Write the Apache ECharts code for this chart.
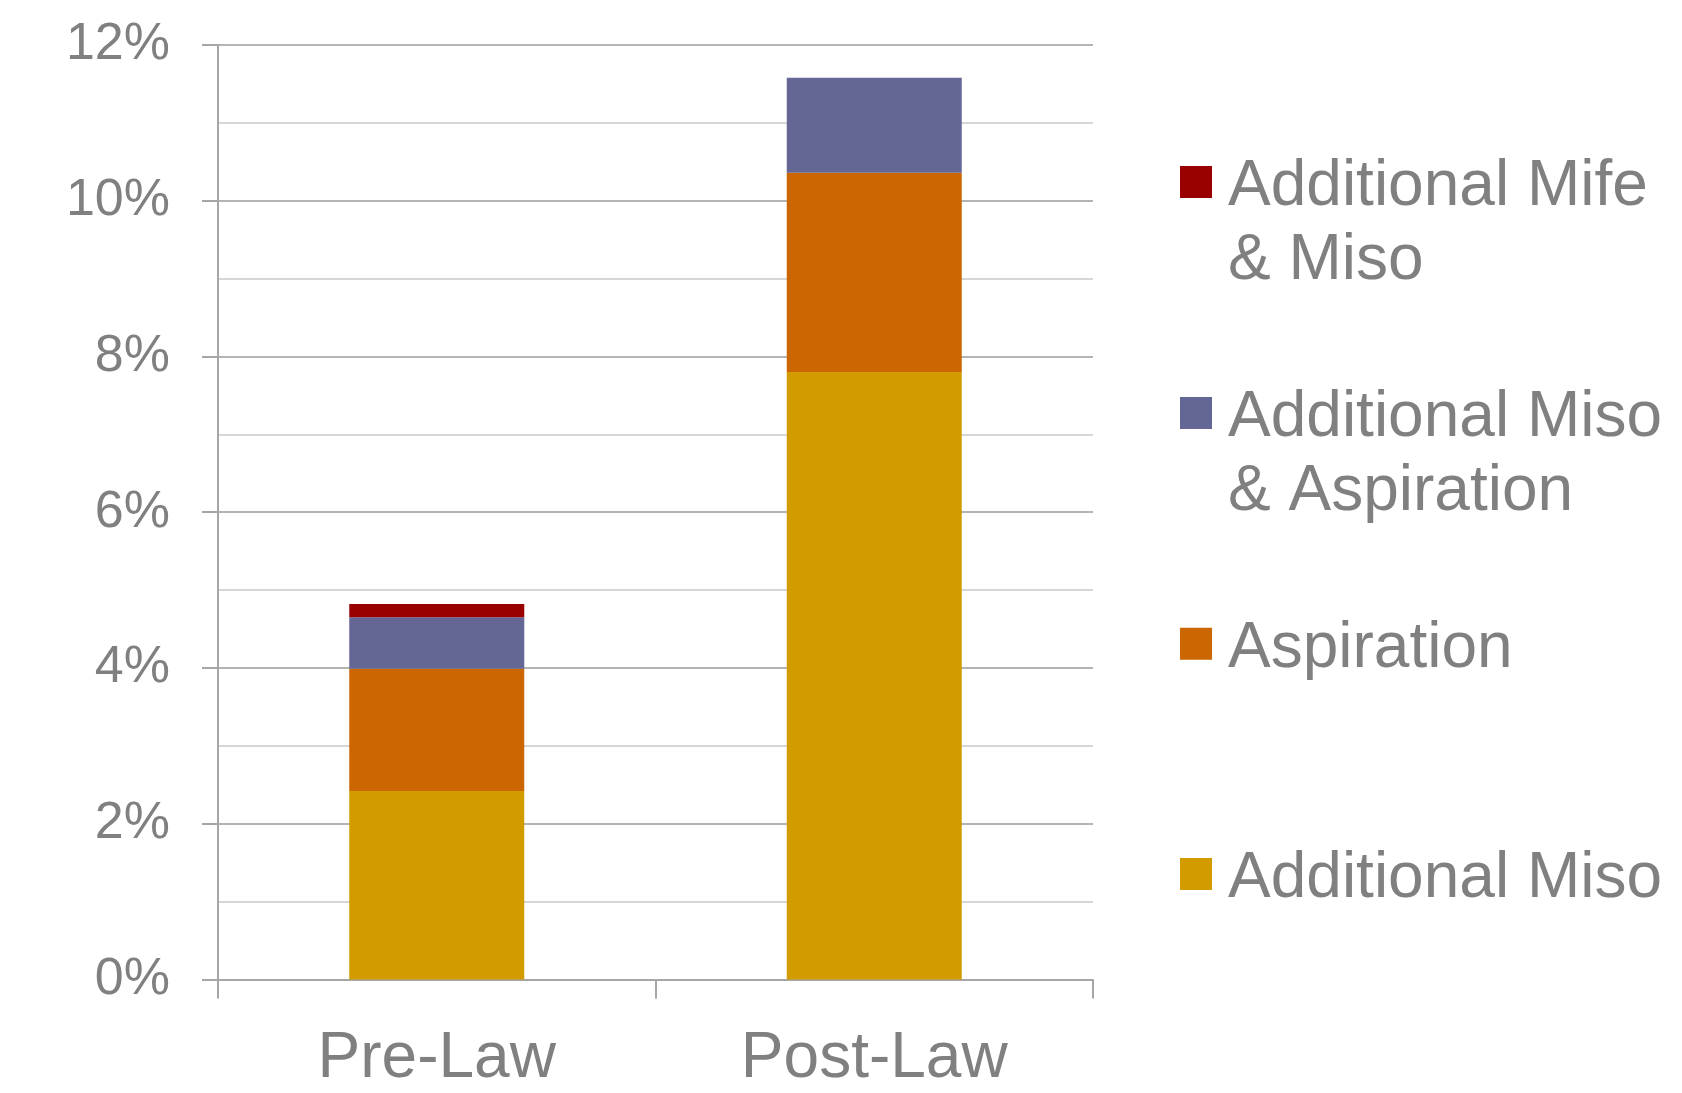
<!DOCTYPE html>
<html>
<head>
<meta charset="utf-8">
<script src="https://cdn.jsdelivr.net/npm/echarts@6/dist/echarts.min.js"></script>
<style>
html,body{margin:0;padding:0;background:#fff;}
#chart{width:1682px;height:1093px;}
</style>
</head>
<body>
<div id="chart"></div>
<script>
const categories = ['Pre-Law', 'Post-Law'];
const additionalMiso = [2.42, 7.80];
const aspiration = [1.57, 2.56];
const misoAspiration = [0.66, 1.22];
const mifeMiso = [0.17, 0];
const seriesNames = ['Additional Miso', 'Aspiration', 'Additional Miso & Aspiration', 'Additional Mife & Miso'];
const legendLines = {
  'Additional Mife & Miso': ['Additional Mife', '& Miso'],
  'Additional Miso & Aspiration': ['Additional Miso', '& Aspiration'],
  'Aspiration': ['Aspiration'],
  'Additional Miso': ['Additional Miso']
};
const colors = ['#D29B00', '#CC6600', '#646696', '#990000'];
const yTicks = [0, 2, 4, 6, 8, 10, 12];

const FONT = 'Liberation Sans, Arial, Helvetica, sans-serif';
const chart = echarts.init(document.getElementById('chart'), null, {renderer: 'canvas'});

const values = [additionalMiso, aspiration, misoAspiration, mifeMiso];
const series = seriesNames.map((n, i) => ({
  name: n,
  type: 'bar',
  stack: 'total',
  barWidth: '40%',
  data: values[i],
  itemStyle: {color: colors[i]},
  emphasis: {disabled: true}
}));

const LH = 73.5;
const SHIFT = 11;
function legendText(n) {
  const lines = legendLines[n];
  const head = lines.length > 1 ? '{big| }' : '{small| }';
  return head + '\n' + lines.map(l => '{t|' + l + '}').join('\n');
}

function mkLegend(name, top) {
  return {
    data: [{name: name, icon: 'rect'}],
    orient: 'vertical',
    left: 1180,
    top: top,
    padding: 0,
    itemWidth: 32,
    itemHeight: 32,
    formatter: legendText,
    textStyle: {
      fontFamily: FONT,
      fontSize: 64,
      lineHeight: LH,
      color: '#808080',
      padding: [0, 0, 0, 11],
      rich: {
        t: {fontFamily: FONT, fontSize: 64, lineHeight: LH, color: '#808080'},
        big: {fontFamily: FONT, fontSize: 10, lineHeight: LH + SHIFT, color: '#808080'},
        small: {fontFamily: FONT, fontSize: 10, lineHeight: SHIFT, color: '#808080'}
      }
    }
  };
}

chart.setOption({
  backgroundColor: '#ffffff',
  animation: false,
  color: colors,
  grid: {left: 218, right: 589, top: 45, bottom: 113.6, containLabel: false},
  legend: [
    mkLegend('Additional Mife & Miso', 66.25),
    mkLegend('Additional Miso & Aspiration', 297.25),
    mkLegend('Aspiration', 601.5),
    mkLegend('Additional Miso', 831.75)
  ],
  xAxis: {
    type: 'category',
    data: categories,
    boundaryGap: true,
    axisLine: {show: true, lineStyle: {color: '#a6a6a6', width: 2}},
    axisTick: {show: true, length: 19, alignWithLabel: false, lineStyle: {color: '#a6a6a6', width: 2}},
    axisLabel: {
      fontFamily: FONT, fontSize: 64, color: '#808080', margin: 47.5
    },
    splitLine: {show: false}
  },
  yAxis: {
    type: 'value',
    min: 0,
    max: 12,
    interval: 2,
    axisLine: {show: true, lineStyle: {color: '#a6a6a6', width: 2}},
    axisTick: {show: true, length: 16, lineStyle: {color: '#a6a6a6', width: 2}},
    axisLabel: {
      fontFamily: FONT, fontSize: 52, color: '#808080', margin: 48,
      formatter: function (v) { return yTicks.indexOf(v) >= 0 ? v + '%' : ''; }
    },
    splitLine: {show: true, lineStyle: {color: '#b4b4b4', width: 2}},
    minorTick: {show: false, splitNumber: 2},
    minorSplitLine: {show: true, lineStyle: {color: '#d6d6d6', width: 2}}
  },
  series: series
});
</script>
</body>
</html>
